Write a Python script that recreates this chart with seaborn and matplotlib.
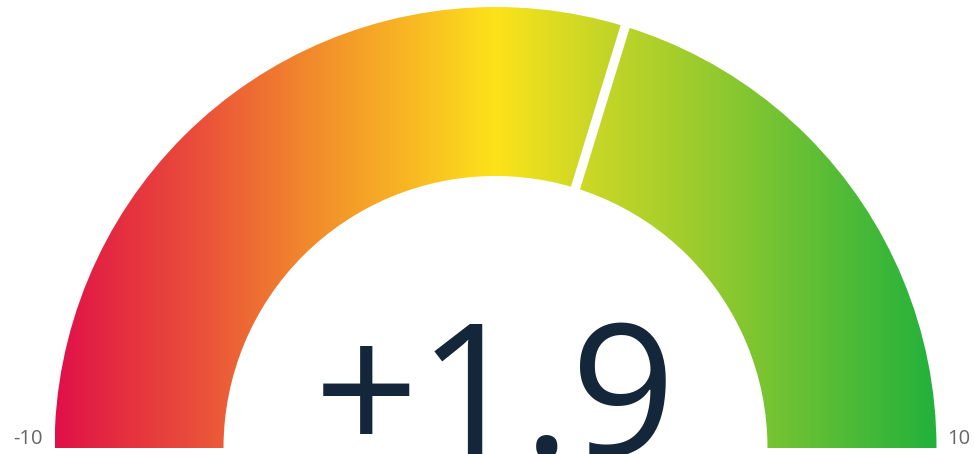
import numpy as np
import matplotlib.pyplot as plt
from matplotlib.patches import Wedge
import seaborn as sns

# valori gauge
gauge_min = -10
gauge_max = 10
gauge_value = 1.9
value_label = '+1.9'
min_label = '-10'
max_label = '10'

# culori gradient (stanga -> dreapta)
grad_colors = ['#e0104a', '#e5313f', '#e9493c', '#f28a2c', '#f8b624', '#fde31a', '#c6d627', '#9acb2e', '#22b13c']
grad_stops = [0.0, 0.08, 0.15, 0.29, 0.40, 0.5, 0.62, 0.74, 1.0]

sns.set_theme(style='white')
plt.rcParams['font.family'] = ['Open Sans', 'DejaVu Sans']

fig = plt.figure(figsize=(9.74, 4.54), dpi=100)
ax = fig.add_axes([0, 0, 1, 1])
ax.set_xlim(0, 974)
ax.set_ylim(0, 454)
ax.set_aspect('equal')
ax.axis('off')

cx, cy = 495.5, 6
r_out, r_in = 441, 272

# colormap din seaborn, cu opriri neuniforme
base = sns.blend_palette(grad_colors, n_colors=len(grad_colors))
xs = np.linspace(0, 1, 600)
rgb = np.array([np.interp(xs, grad_stops, [c[i] for c in base]) for i in range(3)]).T
img = np.tile(rgb[None, :, :], (2, 1, 1))

wedge = Wedge((cx, cy), r_out, 0, 180, width=r_out - r_in, facecolor='none', edgecolor='none')
ax.add_patch(wedge)
im = ax.imshow(img, extent=[cx - r_out, cx + r_out, cy, cy + r_out], aspect='auto',
               interpolation='bilinear', zorder=1)
im.set_clip_path(wedge)

# acul (linie alba)
frac = (gauge_value - gauge_min) / (gauge_max - gauge_min)
ang = np.pi * (1 - frac)
ax.plot([cx + (r_in - 5) * np.cos(ang), cx + (r_out + 5) * np.cos(ang)],
        [cy + (r_in - 5) * np.sin(ang), cy + (r_out + 5) * np.sin(ang)],
        color='white', lw=6.8, solid_capstyle='butt', zorder=3)

# texte (valoarea mare e taiata jos, ca in original)
ax.text(cx, -1, value_label, ha='center', va='baseline', fontsize=132,
        color='#13263a', zorder=4)
ax.text(43, 10, min_label, ha='right', va='baseline', fontsize=14.5, color='#666666')
ax.text(947, 10, max_label, ha='left', va='baseline', fontsize=14.5, color='#666666')

fig.savefig('out.png', dpi=100)
